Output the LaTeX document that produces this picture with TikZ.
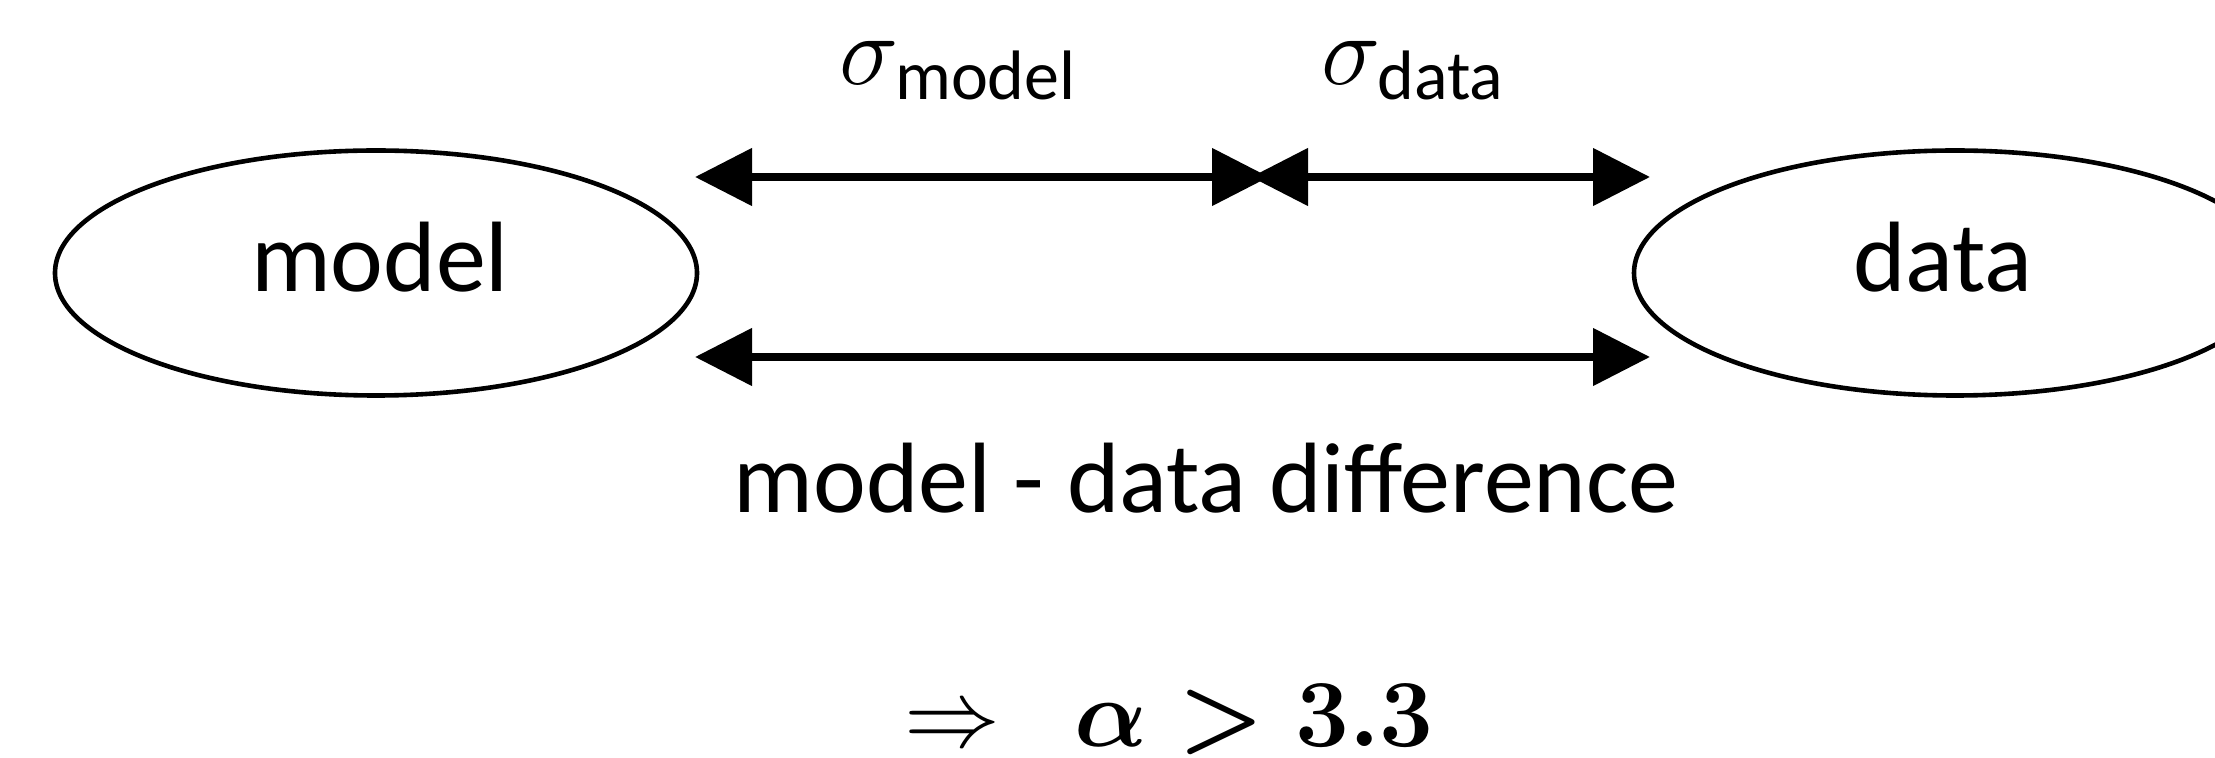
\RequirePackage{fix-cm}
\documentclass[tikz,border=0pt]{standalone}
\usepackage{amsmath}
\usepackage[no-math]{fontspec}
\setmainfont{Carlito}
\usetikzlibrary{arrows.meta,shapes.geometric}
\begin{document}
\begin{tikzpicture}[x=0.5pt,y=-0.5pt,
  bigfont/.style={font=\fontsize{50pt}{60pt}\selectfont},
  mathfont/.style={font=\fontsize{48pt}{58pt}\selectfont},
  blob/.style={draw, line width=2.3pt, ellipse, minimum width=321pt, minimum height=122.5pt,
    inner sep=0pt, text height=36pt, text depth=17pt, bigfont},
  lbl/.style={inner sep=0pt, anchor=base, bigfont},
  dbl/.style={line width=4pt, {Triangle[length=28.5pt,width=28pt]}-{Triangle[length=28.5pt,width=28pt]}}]
\clip (0,0) rectangle (2215,758);
\fill[white] (0,0) rectangle (2215,758);
% ellipses
\node[blob] (model) at (376,273) {\hspace*{4pt}model};
\node[blob] (data) at (1955,273) {data\hspace*{12pt}};
% arrow end points
\coordinate (a1) at (695,177);
\coordinate (a2) at (1269,177);
\coordinate (a3) at (1251,177);
\coordinate (a4) at (1650,177);
\coordinate (b1) at (695,357);
\coordinate (b2) at (1650,357);
\draw[dbl] (a1) -- (a2);
\draw[dbl] (a3) -- (a4);
\draw[dbl] (b1) -- (b2);
% labels
\node[lbl] (smodel) at (958,85) {$\sigma_{\text{model}}$};
\node[lbl] (sdata) at (1413,85) {$\sigma_{\text{data}}$};
\node[lbl] (diff) at (1206,513) {model - data difference};
\node[inner sep=0pt, anchor=base, mathfont] (res) at (1169,746) {$\Rightarrow\mkern9mu\mbox{\boldmath$\alpha > 3.3$}$};
\end{tikzpicture}
\end{document}
